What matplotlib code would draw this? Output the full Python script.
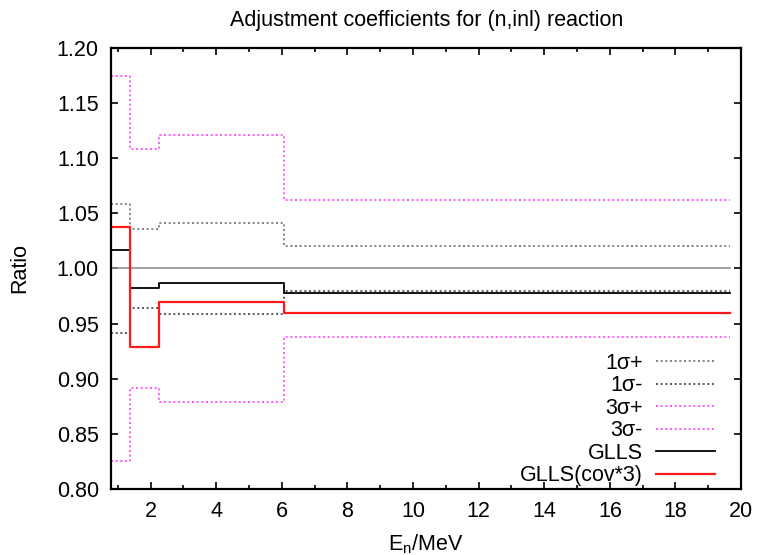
import matplotlib
matplotlib.use("Agg")
import matplotlib.pyplot as plt

plt.rcParams['font.family'] = ['Liberation Sans', 'DejaVu Sans']
plt.rcParams['mathtext.fontset'] = 'custom'
plt.rcParams['mathtext.rm'] = 'Liberation Sans'
plt.rcParams['mathtext.it'] = 'Liberation Sans'

# energy group boundaries (MeV)
edges = [0.8, 1.36, 2.24, 6.05, 19.65]

# adjustment ratios per group
sig1_plus = [1.0585, 1.0357, 1.041, 1.0205]
sig1_minus = [0.9415, 0.9643, 0.959, 0.9795]
sig3_plus = [1.175, 1.108, 1.1215, 1.062]
sig3_minus = [0.825, 0.892, 0.8785, 0.938]
glls = [1.0164, 0.9827, 0.9866, 0.978]
glls_cov3 = [1.038, 0.9287, 0.9694, 0.960]
unity = [1.0, 1.0, 1.0, 1.0]


def steps(vals):
    return vals + [vals[-1]]


fig = plt.figure(figsize=(7.6, 5.55), dpi=100)
ax = fig.add_axes([0.1465, 0.119, 0.8285, 0.7945])

ax.step(edges, steps(unity), where='post', color='#909090', lw=1.2)
dot = (0, (1.2, 1.6))
ax.step(edges, steps(sig1_plus), where='post', color='#707070', lw=1.2, ls=dot, label='1σ+')
ax.step(edges, steps(sig1_minus), where='post', color='#404040', lw=1.2, ls=dot, label='1σ-')
ax.step(edges, steps(sig3_plus), where='post', color='#ff44ff', lw=1.2, ls=dot, label='3σ+')
ax.step(edges, steps(sig3_minus), where='post', color='#ff44ff', lw=1.2, ls=dot, label='3σ-')
ax.step(edges, steps(glls), where='post', color='black', lw=1.3, label='GLLS')
ax.step(edges, steps(glls_cov3), where='post', color='#ff1a1a', lw=1.6, label='GLLS(cov*3)')

ax.set_xlim(0.8, 20)
ax.set_ylim(0.8, 1.2)
ax.set_xticks(range(2, 21, 2))
ax.set_xticks(range(1, 20, 2), minor=True)
ax.set_yticks([0.80, 0.85, 0.90, 0.95, 1.00, 1.05, 1.10, 1.15, 1.20])
ax.set_yticklabels(['%.2f' % v for v in ax.get_yticks()])
ax.tick_params(which='both', direction='in', top=True, right=True, labelsize=15.5, width=1.2)
ax.tick_params(which='major', length=5, pad=9)
ax.tick_params(which='minor', length=3)
for s in ax.spines.values():
    s.set_linewidth(1.6)

ax.set_title('Adjustment coefficients for (n,inl) reaction', fontsize=15.5, pad=16)
ax.set_xlabel(r'E$_\mathrm{n}$/MeV', fontsize=15.5, labelpad=7)
ax.set_ylabel('Ratio', fontsize=15.5, labelpad=19)

ax.legend(loc='lower right', bbox_to_anchor=(0.959, 0.006), frameon=False,
          markerfirst=False, fontsize=15.5, handlelength=2.75, handletextpad=0.6,
          labelspacing=0.07, borderpad=0, borderaxespad=0)

fig.savefig('out.png', dpi=100)
